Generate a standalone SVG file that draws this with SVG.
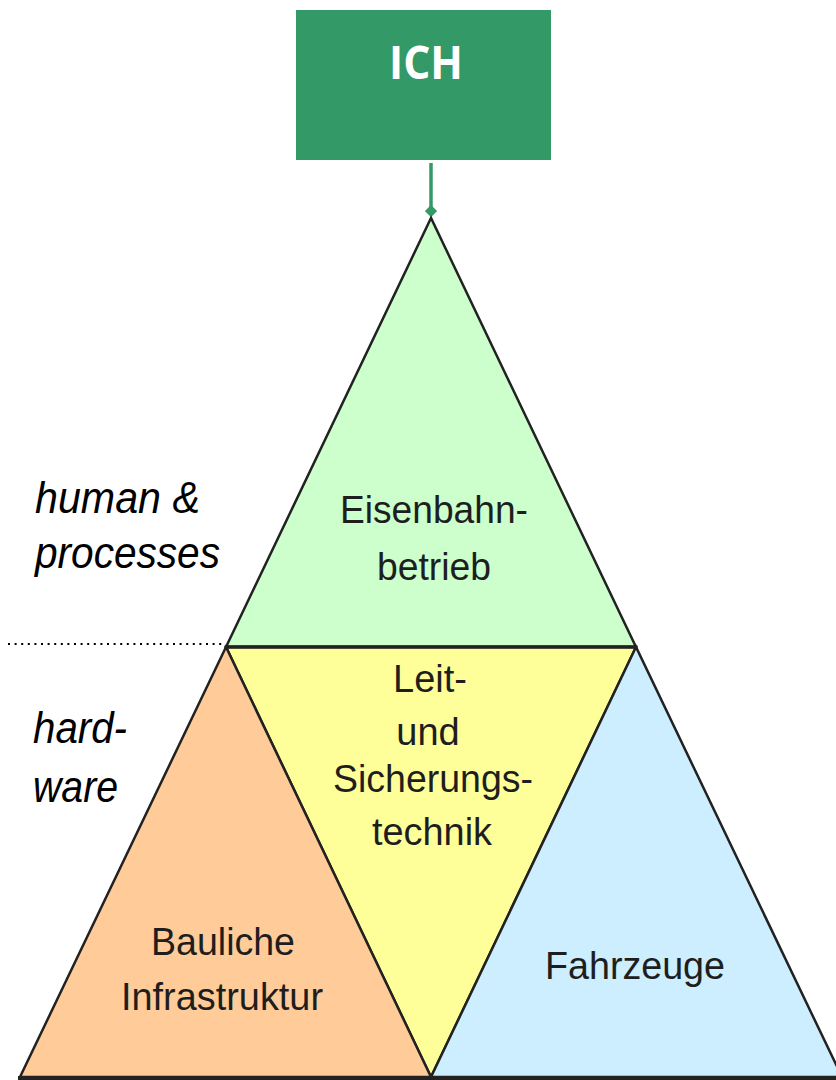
<svg xmlns="http://www.w3.org/2000/svg" width="836" height="1080" viewBox="0 0 836 1080">
  <defs>
    <style>
      .edge { stroke: #222; stroke-width: 2.5; stroke-linejoin: miter; }
      .lbl { font-family: "Liberation Sans", Arial, sans-serif; font-size: 38px; fill: #1e1e1e; text-anchor: middle; }
      .side { font-family: "Liberation Sans", Arial, sans-serif; font-size: 44px; font-style: italic; fill: #000; }
      .link { stroke: #339966; stroke-width: 3.5; fill: none; }
    </style>
    <marker id="diamond" viewBox="0 0 10 10" refX="5" refY="5" markerWidth="3.5" markerHeight="3.5" orient="auto">
      <path d="M0,5 L5,0 L10,5 L5,10 Z" fill="#339966"/>
    </marker>
  </defs>
  <rect width="836" height="1080" fill="#fff"/>

  <!-- top box -->
  <g id="node-ich">
    <rect x="296" y="10" width="255" height="150" fill="#339966"/>
    <text x="426" y="79" font-family="'Open Sans', sans-serif" font-weight="bold" font-size="46" fill="#fff" text-anchor="middle" textLength="74" lengthAdjust="spacingAndGlyphs">ICH</text>
  </g>

  <!-- connector from box to apex -->
  <g id="connectors">
    <line class="link" x1="431" y1="163" x2="431" y2="211" marker-end="url(#diamond)"/>
  </g>

  <!-- upper triangle -->
  <g id="node-betrieb">
    <polygon class="edge" points="431,218 226,647 636,647" fill="#ccffcc"/>
    <text class="lbl" x="434" y="523" textLength="188" lengthAdjust="spacingAndGlyphs">Eisenbahn-</text>
    <text class="lbl" x="434" y="580" textLength="114" lengthAdjust="spacingAndGlyphs">betrieb</text>
  </g>

  <!-- middle inverted triangle -->
  <g id="node-lst">
    <polygon class="edge" points="226,647 636,647 431,1077" fill="#ffff99"/>
    <text class="lbl" x="430" y="692">Leit-</text>
    <text class="lbl" x="428" y="745">und</text>
    <text class="lbl" x="433" y="792" textLength="200" lengthAdjust="spacingAndGlyphs">Sicherungs-</text>
    <text class="lbl" x="432" y="845" textLength="120" lengthAdjust="spacingAndGlyphs">technik</text>
  </g>

  <!-- lower left triangle -->
  <g id="node-infra">
    <polygon class="edge" points="226,647 20,1077 431,1077" fill="#ffcc99"/>
    <text class="lbl" x="223" y="955" textLength="144" lengthAdjust="spacingAndGlyphs">Bauliche</text>
    <text class="lbl" x="222" y="1010" textLength="202" lengthAdjust="spacingAndGlyphs">Infrastruktur</text>
  </g>

  <!-- lower right triangle -->
  <g id="node-fahrzeuge">
    <polygon class="edge" points="636,647 431,1077 842,1077" fill="#cceeff"/>
    <text class="lbl" x="635" y="979" textLength="180" lengthAdjust="spacingAndGlyphs">Fahrzeuge</text>
  </g>

  <!-- heavy mid and base lines -->
  <line x1="226" y1="647" x2="636" y2="647" stroke="#222" stroke-width="3.5"/>
  <line x1="18" y1="1078" x2="836" y2="1078" stroke="#222" stroke-width="4"/>

  <!-- layer divider -->
  <line x1="8" y1="644" x2="222" y2="644" stroke="#000" stroke-width="2" stroke-dasharray="2 4.6"/>

  <!-- layer labels -->
  <g id="label-human">
    <text class="side" x="35" y="513" textLength="165" lengthAdjust="spacingAndGlyphs">human &amp;</text>
    <text class="side" x="35" y="568" textLength="185" lengthAdjust="spacingAndGlyphs">processes</text>
  </g>
  <g id="label-hardware">
    <text class="side" x="33" y="743" textLength="94" lengthAdjust="spacingAndGlyphs">hard-</text>
    <text class="side" x="33" y="802" textLength="85" lengthAdjust="spacingAndGlyphs">ware</text>
  </g>
</svg>
